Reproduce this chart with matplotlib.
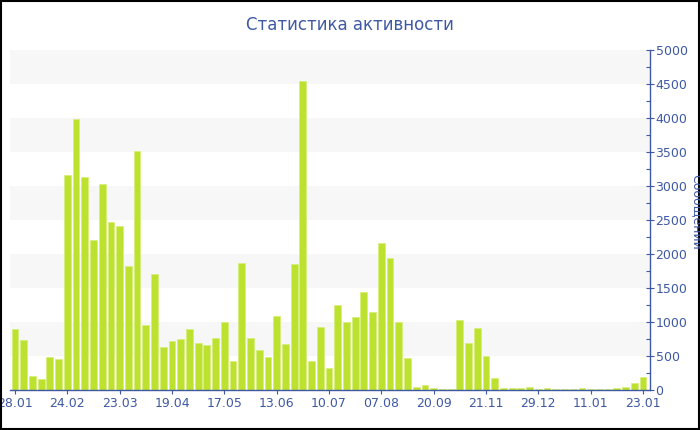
"""
activity_chart.py

Weekly message counts ("Статистика активности") as a bar chart
with the value axis on the right and alternating horizontal bands.

Output
------
- out.png
"""

from __future__ import annotations

import numpy as np
import matplotlib.pyplot as plt
from matplotlib.patches import Rectangle
from matplotlib.ticker import MultipleLocator


# Messages per period
messages = [
    897, 735, 206, 162, 485, 451, 3167, 3990, 3132, 2201,
    3024, 2466, 2407, 1828, 3520, 961, 1706, 632, 716, 750,
    897, 686, 662, 765, 1000, 426, 1875, 765, 583, 480,
    1083, 672, 1853, 4549, 422, 922, 328, 1250, 995, 1069,
    1446, 1147, 2162, 1941, 995, 471, 39, 69, 25, 15,
    20, 1034, 686, 907, 495, 181, 34, 34, 29, 39,
    20, 25, 20, 15, 15, 29, 20, 15, 20, 29,
    44, 108, 196,
]

# Labels shown under every sixth bar
date_labels = [
    "28.01", "24.02", "23.03", "19.04", "17.05", "13.06", "10.07",
    "07.08", "20.09", "21.11", "29.12", "11.01", "23.01",
]

TITLE = "Статистика активности"
Y_LABEL = "Сообщений"

BAR_COLOR = "#bde12f"
TEXT_COLOR = "#3e58a3"
BAND_COLOR = "#f7f7f7"


def main() -> None:
    fig = plt.figure(figsize=(7.0, 4.3), dpi=100)
    ax = fig.add_axes([10 / 700, 40 / 430, 640 / 700, 340 / 430])

    x = np.arange(len(messages))
    step = (len(messages) - 1) // (len(date_labels) - 1)

    # Alternating light bands every 500 messages
    for lo in range(500, 5000, 1000):
        ax.axhspan(lo, lo + 500, color=BAND_COLOR, zorder=0, linewidth=0)

    ax.bar(x, messages, width=0.78, color=BAR_COLOR,
           edgecolor="#d6ee78", linewidth=0.5, zorder=2)

    ax.set_xlim(-0.57, len(messages) - 0.2)
    ax.set_ylim(0, 5000)

    ax.set_xticks(x[::step])
    ax.set_xticklabels(date_labels)

    ax.yaxis.tick_right()
    ax.yaxis.set_major_locator(MultipleLocator(500))
    ax.yaxis.set_minor_locator(MultipleLocator(250))

    for side in ("top", "left"):
        ax.spines[side].set_visible(False)
    for side in ("bottom", "right"):
        ax.spines[side].set_color(TEXT_COLOR)
        ax.spines[side].set_linewidth(1.0)

    ax.tick_params(axis="x", colors=TEXT_COLOR, labelcolor=TEXT_COLOR,
                   labelsize=9, length=3, width=0.8, pad=2)
    ax.tick_params(axis="y", which="major", colors=TEXT_COLOR, labelcolor=TEXT_COLOR,
                   labelsize=9, length=6, width=0.8, direction="inout", pad=1)
    ax.tick_params(axis="y", which="minor", colors=TEXT_COLOR,
                   length=3, width=0.8, direction="in")

    fig.text(0.5, 1 - 25 / 430, TITLE, ha="center", va="center",
             fontsize=12, color=TEXT_COLOR)
    fig.text(696 / 700, 218 / 430, Y_LABEL, ha="center", va="center",
             rotation=270, fontsize=9, color=TEXT_COLOR)

    # Black frame round the whole picture
    fig.patches.append(Rectangle((0.001, 0.002), 0.997, 0.996, transform=fig.transFigure,
                                 fill=False, edgecolor="black", linewidth=1.5))

    fig.savefig("out.png", dpi=100)
    plt.close(fig)


if __name__ == "__main__":
    main()
